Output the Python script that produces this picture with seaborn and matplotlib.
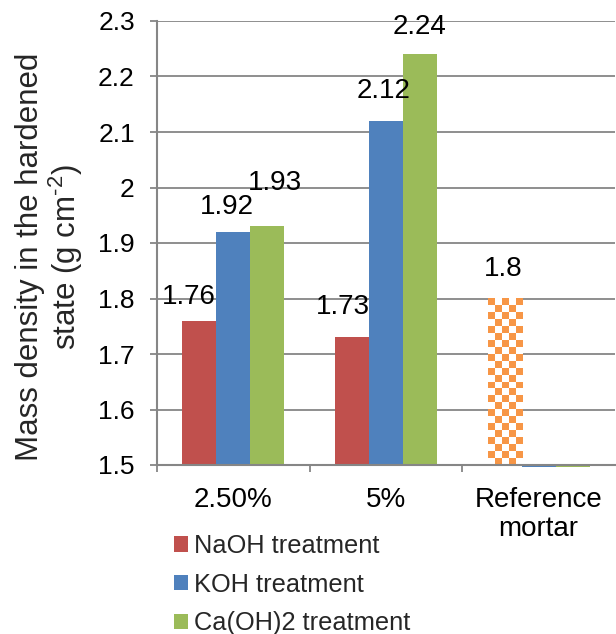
import numpy as np
import pandas as pd
import matplotlib
matplotlib.use("Agg")
import matplotlib.pyplot as plt
import seaborn as sns
from matplotlib.patches import Patch
from matplotlib.ticker import FuncFormatter

# ---- data ----
groups = ["2.50%", "5%", "Reference\nmortar"]
treatments = ["NaOH treatment", "KOH treatment", "Ca(OH)2 treatment"]
naoh = [1.76, 1.73, 1.80]     # reference mortar bar drawn in the first slot
koh = [1.92, 2.12, 1.497]
caoh2 = [1.93, 2.24, 1.497]
labels = [["1.76", "1.73", "1.8"], ["1.92", "2.12", ""], ["1.93", "2.24", ""]]
colors = ["#C0504D", "#4F81BD", "#9BBB59"]
ref_color = "#F79646"
y_ticks = [1.5, 1.6, 1.7, 1.8, 1.9, 2.0, 2.1, 2.2, 2.3]

# label offsets (pixels, dx, dy) – styling only
label_offsets = [[(-10, 24), (-9, 30), (-1, 29)],
                 [(-6, 25), (-2, 30), (0, 0)],
                 [(8, 43), (-1, 27), (0, 0)]]

df = pd.DataFrame({
    "group": groups * 3,
    "treatment": sum([[t] * 3 for t in treatments], []),
    "value": naoh + koh + caoh2,
})

sns.set_theme(style="white")
plt.rcParams["font.family"] = ["Liberation Sans", "DejaVu Sans"]
plt.rcParams["mathtext.fontset"] = "custom"
plt.rcParams["mathtext.rm"] = "Liberation Sans"
plt.rcParams["mathtext.it"] = "Liberation Sans:italic"
plt.rcParams["mathtext.bf"] = "Liberation Sans:bold"

fig = plt.figure(figsize=(6.16, 6.34), dpi=100)
ax = fig.add_axes([157 / 616, 1 - 465 / 634, 458 / 616, 444 / 634])

grid_c = "#868686"
ybase = y_ticks[0]
for yv in y_ticks[1:]:
    ax.axhline(yv, color=grid_c, lw=1.3, zorder=0)

sns.barplot(data=df, x="group", y="value", hue="treatment", order=groups,
            hue_order=treatments, palette=colors, saturation=1, width=0.67,
            gap=0, legend=False, ax=ax, zorder=2)

px2pt = 72 / 100
for hi, cont in enumerate(ax.containers):
    for gi, p in enumerate(cont.patches):
        h = p.get_height()
        p.set_y(ybase)
        p.set_height(h - ybase)
        p.set_linewidth(0)
        p.set_clip_on(False)
        txt = labels[hi][gi]
        if txt:
            dx, dy = label_offsets[hi][gi]
            ax.annotate(txt, (p.get_x() + p.get_width() / 2, h),
                        xytext=(dx * px2pt, dy * px2pt), textcoords="offset points",
                        ha="center", va="center", fontsize=20, color="black",
                        zorder=5)

# checkered reference mortar bar
ref = ax.containers[0].patches[2]
ref.set_facecolor("white")
x0, w = ref.get_x(), ref.get_width()
ncol, nrow = 5, 24
checker = (np.add.outer(np.arange(nrow), np.arange(ncol)) % 2).astype(float)
cmap = matplotlib.colors.ListedColormap(["white", ref_color])
im = ax.imshow(checker, cmap=cmap, extent=(x0, x0 + w, ybase, naoh[2]),
               aspect="auto", interpolation="nearest", zorder=3, origin="lower")
im.set_clip_path(ref)

ax.set_xlim(-0.5, 2.5)
ax.set_ylim(ybase, y_ticks[-1])
ax.set_yticks(y_ticks)
ax.yaxis.set_major_formatter(FuncFormatter(lambda v, _: f"{v:g}"))
ax.tick_params(axis="y", which="major", length=5, width=1.3, color=grid_c,
               direction="out", left=True, labelsize=19, pad=11, labelcolor="black")
ax.set_xticks([0, 1, 2])
ax.set_xticklabels(groups, fontsize=20, linespacing=1.15)
ax.set_xticks([-0.5, 0.5, 1.5], minor=True)
ax.tick_params(axis="x", which="major", length=0, pad=16, labelcolor="black")
ax.tick_params(axis="x", which="minor", length=5, width=1.3, color=grid_c,
               direction="out", bottom=True)
ax.set_xlabel("")
ax.set_ylabel("")
for s in ["top", "right"]:
    ax.spines[s].set_visible(False)
for s in ["left", "bottom"]:
    ax.spines[s].set_color(grid_c)
    ax.spines[s].set_linewidth(1.5)
    ax.spines[s].set_zorder(4)

fig.text(50 / 616, 1 - 257 / 634, "Mass density in the hardened\nstate (g cm$^{\\text{-2}}$)",
         rotation=90, ha="center", va="center", fontsize=22.5, linespacing=1.05,
         multialignment="center")

handles = [Patch(facecolor=c, edgecolor="none") for c in colors]
leg = ax.legend(handles, treatments, loc="upper left",
                bbox_to_anchor=((174 - 157) / 458, (465 - 534) / 444),
                bbox_transform=ax.transAxes, frameon=False,
                fontsize=18.3, handlelength=0.55, handleheight=0.55, handletextpad=0.25,
                labelspacing=0.58, borderaxespad=0, borderpad=0)

fig.savefig("out.png", dpi=100)
